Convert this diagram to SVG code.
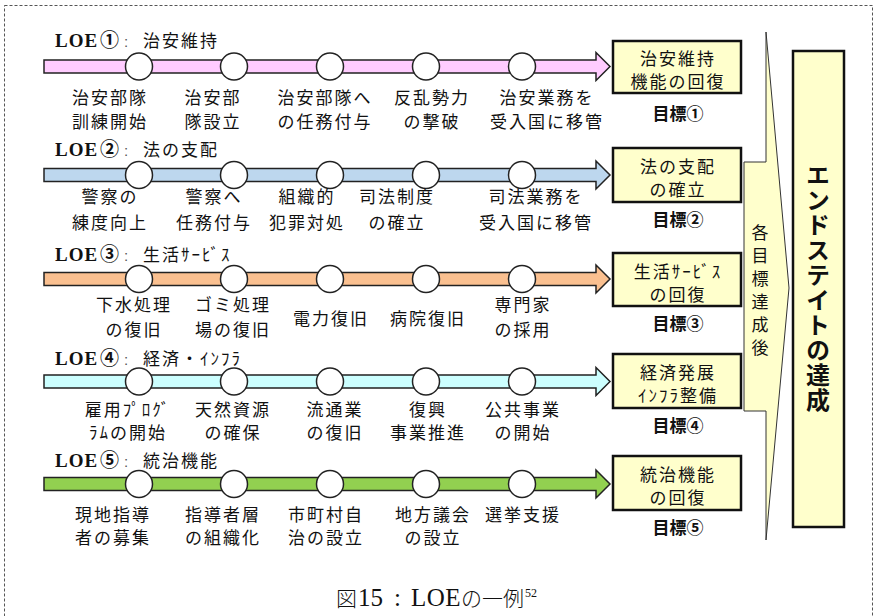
<svg xmlns="http://www.w3.org/2000/svg" width="875" height="616" viewBox="0 0 875 616">
<style>
.jp{font-family:"Noto Sans CJK JP","Noto Sans",sans-serif;font-size:17px;fill:#111;letter-spacing:2px;text-anchor:middle}
.hd{font-family:"Liberation Serif","Noto Sans CJK JP",serif;font-size:19px;font-weight:bold;fill:#111;letter-spacing:1px}
.hn{font-family:"Noto Sans CJK JP",serif;font-size:19px;font-weight:bold;letter-spacing:0}
.hc{font-family:"Liberation Sans",sans-serif;font-size:15px;font-weight:normal;fill:#555;letter-spacing:0}
.hj{font-family:"Noto Sans CJK JP",sans-serif;font-size:17px;font-weight:normal;letter-spacing:2px}
.bar{stroke:#222;stroke-width:1.5}
.node{fill:#fff;stroke:#222;stroke-width:1.5}
.goal{fill:#FFFFCC;stroke:#111;stroke-width:2.5}
.gl{font-family:"Noto Sans CJK JP",sans-serif;font-size:17px;font-weight:bold;fill:#111;text-anchor:middle}
.cs{font-family:"Liberation Serif",serif;font-size:25px;fill:#111}
.sup{font-family:"Liberation Serif",serif;font-size:12px;fill:#111}
.cj{font-family:"Noto Sans CJK JP",sans-serif;font-size:21px;font-weight:300;fill:#111}
</style>
<rect x="4.5" y="5.5" width="868" height="620" fill="none" stroke="#555" stroke-width="1" stroke-dasharray="3,2"/>

<g id="connectors">
<polygon class="bar" fill="#FFCCFF" points="44,60 596,60 596,52.5 610,66.5 596,80.5 596,73 44,73"/>
<polygon class="bar" fill="#BDD7EE" points="44,168.5 596,168.5 596,161 610,175 596,189 596,181.5 44,181.5"/>
<polygon class="bar" fill="#FAC090" points="44,272.5 596,272.5 596,265 610,279 596,293 596,285.5 44,285.5"/>
<polygon class="bar" fill="#CCFFFF" points="44,375 596,375 596,367.5 610,381.5 596,395.5 596,388 44,388"/>
<polygon class="bar" fill="#92D050" points="44,477.5 596,477.5 596,470 610,484 596,498 596,490.5 44,490.5"/>
<polygon fill="#FFFFCC" stroke="#333" stroke-width="1" points="766,32 789,288 766,540 766,411 744,411 744,162 766,162"/>
</g>

<g id="loe1">
<text class="hd" y="47"><tspan x="55">LOE</tspan><tspan class="hn" x="100">①</tspan><tspan class="hc" x="124">:</tspan><tspan class="hj" x="143">治安維持</tspan></text>
<circle class="node" cx="139" cy="66.5" r="13.5"/><circle class="node" cx="234" cy="66.5" r="13.5"/><circle class="node" cx="330" cy="66.5" r="13.5"/><circle class="node" cx="426" cy="66.5" r="13.5"/><circle class="node" cx="522" cy="66.5" r="13.5"/>
<text class="jp" x="110" y="103.5">治安部隊</text><text class="jp" x="110" y="127.5">訓練開始</text>
<text class="jp" x="213" y="103.5">治安部</text><text class="jp" x="213" y="127.5">隊設立</text>
<text class="jp" x="325" y="103.5">治安部隊へ</text><text class="jp" x="325" y="127.5">の任務付与</text>
<text class="jp" x="432" y="103.5">反乱勢力</text><text class="jp" x="432" y="127.5">の撃破</text>
<text class="jp" x="547" y="103.5">治安業務を</text><text class="jp" x="547" y="127.5">受入国に移管</text>
</g>

<g id="loe2">
<text class="hd" y="156"><tspan x="55">LOE</tspan><tspan class="hn" x="100">②</tspan><tspan class="hc" x="124">:</tspan><tspan class="hj" x="143">法の支配</tspan></text>
<circle class="node" cx="139" cy="175" r="13.5"/><circle class="node" cx="234" cy="175" r="13.5"/><circle class="node" cx="330" cy="175" r="13.5"/><circle class="node" cx="426" cy="175" r="13.5"/><circle class="node" cx="522" cy="175" r="13.5"/>
<text class="jp" x="110" y="202.5">警察の</text><text class="jp" x="110" y="228.5">練度向上</text>
<text class="jp" x="214" y="202.5">警察へ</text><text class="jp" x="214" y="228.5">任務付与</text>
<text class="jp" x="307" y="202.5">組織的</text><text class="jp" x="307" y="228.5">犯罪対処</text>
<text class="jp" x="397" y="202.5">司法制度</text><text class="jp" x="397" y="228.5">の確立</text>
<text class="jp" x="536" y="202.5">司法業務を</text><text class="jp" x="536" y="228.5">受入国に移管</text>
</g>

<g id="loe3">
<text class="hd" y="261"><tspan x="55">LOE</tspan><tspan class="hn" x="100">③</tspan><tspan class="hc" x="124">:</tspan><tspan class="hj" x="143">生活ｻｰﾋﾞｽ</tspan></text>
<circle class="node" cx="139" cy="279" r="13.5"/><circle class="node" cx="234" cy="279" r="13.5"/><circle class="node" cx="330" cy="279" r="13.5"/><circle class="node" cx="426" cy="279" r="13.5"/><circle class="node" cx="522" cy="279" r="13.5"/>
<text class="jp" x="134" y="310.5">下水処理</text><text class="jp" x="134" y="335.5">の復旧</text>
<text class="jp" x="233" y="310.5">ゴミ処理</text><text class="jp" x="233" y="335.5">場の復旧</text>
<text class="jp" x="331" y="324.5">電力復旧</text>
<text class="jp" x="428" y="324.5">病院復旧</text>
<text class="jp" x="523" y="310.5">専門家</text><text class="jp" x="523" y="335.5">の採用</text>
</g>

<g id="loe4">
<text class="hd" y="365"><tspan x="55">LOE</tspan><tspan class="hn" x="100">④</tspan><tspan class="hc" x="124">:</tspan><tspan class="hj" x="143">経済・ｲﾝﾌﾗ</tspan></text>
<circle class="node" cx="139" cy="381.5" r="13.5"/><circle class="node" cx="234" cy="381.5" r="13.5"/><circle class="node" cx="330" cy="381.5" r="13.5"/><circle class="node" cx="426" cy="381.5" r="13.5"/><circle class="node" cx="522" cy="381.5" r="13.5"/>
<text class="jp" x="128" y="415.5">雇用ﾌﾟﾛｸﾞ</text><text class="jp" x="128" y="438.5">ﾗﾑの開始</text>
<text class="jp" x="233" y="415.5">天然資源</text><text class="jp" x="233" y="438.5">の確保</text>
<text class="jp" x="335" y="415.5">流通業</text><text class="jp" x="335" y="438.5">の復旧</text>
<text class="jp" x="428" y="415.5">復興</text><text class="jp" x="428" y="438.5">事業推進</text>
<text class="jp" x="523" y="415.5">公共事業</text><text class="jp" x="523" y="438.5">の開始</text>
</g>

<g id="loe5">
<text class="hd" y="467"><tspan x="55">LOE</tspan><tspan class="hn" x="100">⑤</tspan><tspan class="hc" x="124">:</tspan><tspan class="hj" x="143">統治機能</tspan></text>
<circle class="node" cx="139" cy="484" r="13.5"/><circle class="node" cx="234" cy="484" r="13.5"/><circle class="node" cx="330" cy="484" r="13.5"/><circle class="node" cx="426" cy="484" r="13.5"/><circle class="node" cx="522" cy="484" r="13.5"/>
<text class="jp" x="113" y="520.5">現地指導</text><text class="jp" x="113" y="543.5">者の募集</text>
<text class="jp" x="223" y="520.5">指導者層</text><text class="jp" x="223" y="543.5">の組織化</text>
<text class="jp" x="326" y="520.5">市町村自</text><text class="jp" x="326" y="543.5">治の設立</text>
<text class="jp" x="433" y="520.5">地方議会</text><text class="jp" x="433" y="543.5">の設立</text>
<text class="jp" x="523" y="520.5">選挙支援</text>
</g>

<g id="goal1">
<rect class="goal" x="613" y="41" width="128" height="52"/>
<text class="jp" x="678" y="65">治安維持</text><text class="jp" x="678" y="88">機能の回復</text>
<text class="gl" x="678" y="119.5">目標①</text>
</g>
<g id="goal2">
<rect class="goal" x="613" y="148" width="128" height="54"/>
<text class="jp" x="678" y="173">法の支配</text><text class="jp" x="678" y="196">の確立</text>
<text class="gl" x="678" y="225.5">目標②</text>
</g>
<g id="goal3">
<rect class="goal" x="613" y="253" width="128" height="53"/>
<text class="jp" x="678" y="278">生活ｻｰﾋﾞｽ</text><text class="jp" x="678" y="301">の回復</text>
<text class="gl" x="678" y="329.5">目標③</text>
</g>
<g id="goal4">
<rect class="goal" x="613" y="354" width="128" height="54"/>
<text class="jp" x="678" y="379">経済発展</text><text class="jp" x="678" y="402">ｲﾝﾌﾗ整備</text>
<text class="gl" x="678" y="431.5">目標④</text>
</g>
<g id="goal5">
<rect class="goal" x="613" y="456" width="128" height="54"/>
<text class="jp" x="678" y="481">統治機能</text><text class="jp" x="678" y="504">の回復</text>
<text class="gl" x="678" y="533.5">目標⑤</text>
</g>

<g id="after">
<text x="760" y="224" writing-mode="vertical-rl" font-family="Noto Sans CJK JP,sans-serif" font-size="17" letter-spacing="6" fill="#111">各目標達成後</text>
</g>

<g id="endstate">
<rect class="goal" x="793" y="51" width="51" height="476"/>
<text x="818" y="163" writing-mode="vertical-rl" font-family="Noto Sans CJK JP,sans-serif" font-size="24" font-weight="bold" letter-spacing="1" fill="#111">エンドステイトの達成</text>
</g>

<text y="606"><tspan class="cj" x="336">図</tspan><tspan class="cs" x="358">15</tspan><tspan class="cs" x="394">:</tspan><tspan class="cs" x="411" letter-spacing="0.5">LOE</tspan><tspan class="cj" x="461">の一例</tspan><tspan class="sup" x="525" y="597">52</tspan></text>
</svg>
